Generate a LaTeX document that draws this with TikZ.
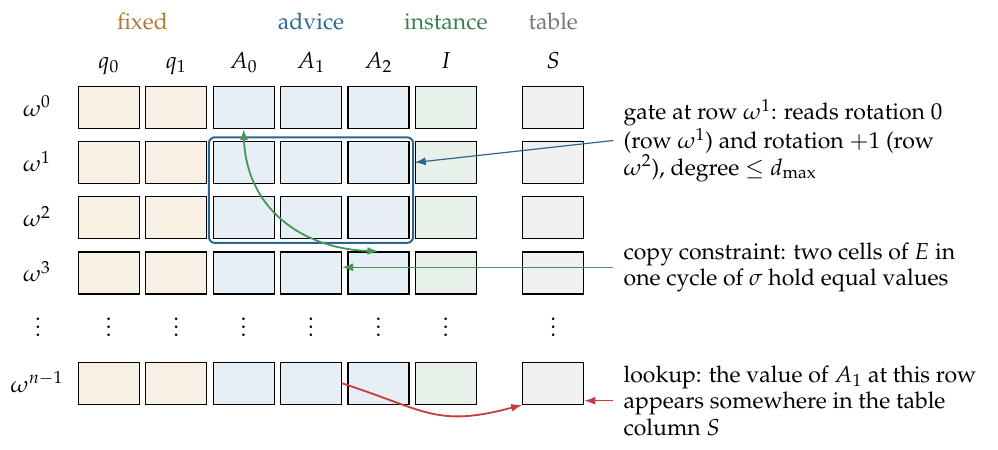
\documentclass[tikz,border=0pt]{standalone}
\usepackage[T1]{fontenc}
\usepackage{mathpazo}
\usetikzlibrary{arrows.meta,fit}
\definecolor{fixedtxt}{RGB}{176,122,48}
\definecolor{advtxt}{RGB}{46,104,150}
\definecolor{insttxt}{RGB}{58,128,78}
\definecolor{tabtxt}{RGB}{120,120,120}
\definecolor{fixedfill}{RGB}{248,240,227}
\definecolor{advfill}{RGB}{230,238,246}
\definecolor{instfill}{RGB}{232,241,233}
\definecolor{tabfill}{RGB}{240,240,240}
\definecolor{gateblue}{RGB}{46,100,145}
\definecolor{copygreen}{RGB}{70,150,90}
\definecolor{lookred}{RGB}{200,60,60}
\begin{document}
\begin{tikzpicture}[x=0.5pt,y=0.5pt,
  font=\fontsize{11.5}{13.2}\selectfont,
  cell/.style={draw=black, line width=0.6pt, minimum width=30.5pt, minimum height=21pt, inner sep=0pt},
  hdr/.style={anchor=base, inner sep=0pt},
  grp/.style={anchor=base, inner sep=0pt},
  rowlab/.style={anchor=base, inner sep=0pt},
  dotlab/.style={anchor=base, inner sep=0pt},
  note/.style={anchor=west, align=left, inner sep=5pt},
  gatebox/.style={draw=gateblue, line width=1pt, rounded corners=3pt, inner sep=1.8pt},
  tip/.style={-{Latex[length=5.5pt,width=4pt]}},
  dtip/.style={{Latex[length=5.5pt,width=4pt]}-{Latex[length=5.5pt,width=4pt]}}
]
\useasboundingbox (0,0) rectangle (998,-450);

% cells and column dots
\foreach \c/\x/\f in {q0/108.8/fixedfill, q1/176.2/fixedfill, A0/243.6/advfill, A1/311.0/advfill, A2/378.4/advfill, I/445.8/instfill, S/553.3/tabfill}{
  \foreach \r/\y in {0/107.3, 1/162.5, 2/217.7, 3/272.9, n/383.3}{
    \node[cell, fill=\f] (c-\c-\r) at (\x,-\y) {};
  }
  \node[dotlab] (d-\c) at (\x,-336.5) {$\vdots$};
}

% column headers
\foreach \c/\x/\lab in {q0/108.8/q_0, q1/176.2/q_1, A0/243.6/A_0, A1/311.0/A_1, A2/378.4/A_2, I/445.8/I, S/553.3/S}{
  \node[hdr] (h-\c) at (\x,-68.3) {$\lab$};
}

% group labels
\node[grp, text=fixedtxt] (g-fixed) at (142.5,-29.3) {fixed};
\node[grp, text=advtxt] (g-advice) at (311.0,-29.3) {advice};
\node[grp, text=insttxt] (g-instance) at (445.8,-29.3) {instance};
\node[grp, text=tabtxt] (g-table) at (553.3,-29.3) {table};

% row labels
\foreach \r/\y/\lab in {0/107.3/0, 1/162.5/1, 2/217.7/2, 3/272.9/3, n/383.3/{n-1}}{
  \node[rowlab] (r-\r) at (37,-\y-9) {$\omega^{\lab}$};
}
\node[dotlab] (d-lab) at (38,-336.5) {$\vdots$};

% gate box
\node[gatebox, fit=(c-A0-1)(c-A2-2)] (gate) {};

% notes
\node[note] (note1) at (613.3,-140.5) {gate at row $\omega^1$: reads rotation 0\\(row $\omega^1$) and rotation $+1$ (row\\$\omega^2$), degree $\le d_{\max}$};
\node[note] (note2) at (613.3,-267.3) {copy constraint: two cells of $E$ in\\one cycle of $\sigma$ hold equal values};
\node[note] (note3) at (613.3,-400.7) {lookup: the value of $A_1$ at this row\\appears somewhere in the table\\column $S$};

% connectors
\draw[tip, draw=gateblue, line width=0.6pt] (note1.west) -- (c-I-1.west);
\draw[dtip, draw=copygreen, line width=0.9pt] (c-A0-0.south) to[out=-88,in=178,looseness=1.1] (c-A2-3.north);
\draw[tip, draw=copygreen, line width=0.6pt] (note2.west) -- (c-A1-3.east |- note2.west);
\draw[tip, draw=lookred, line width=0.9pt] (c-A1-n.east) to[out=-18,in=195,looseness=1.25] (c-S-n.south west);
\draw[tip, draw=lookred, line width=0.6pt] (note3.west) -- (c-S-n.east |- note3.west);
\end{tikzpicture}
\end{document}
